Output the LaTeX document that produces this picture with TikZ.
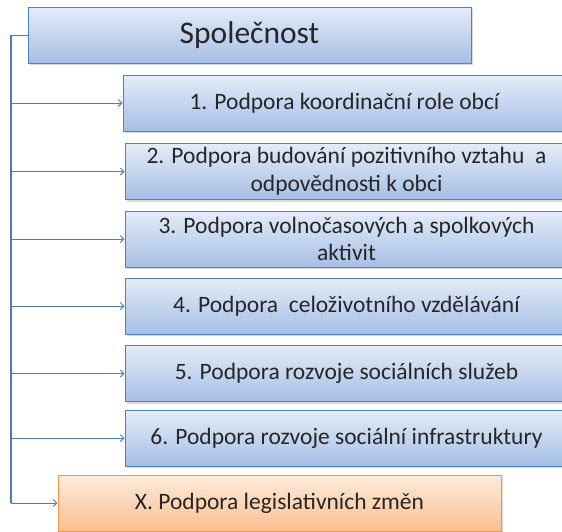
\documentclass[tikz,border=0pt]{standalone}
\usepackage{fontspec}
\setmainfont{Carlito}
\usetikzlibrary{arrows.meta,shadows}
\definecolor{boxtop}{HTML}{E4ECF7}
\definecolor{boxbot}{HTML}{A5BFE5}
\definecolor{boxline}{HTML}{4F81BD}
\definecolor{xtop}{HTML}{FEEBDC}
\definecolor{xbot}{HTML}{FABF8F}
\definecolor{xline}{HTML}{F79646}
\definecolor{linkc}{HTML}{4A7EBB}
\begin{document}
\begin{tikzpicture}[x=1pt,y=-1pt,
    box/.style={draw=boxline,line width=1pt,top color=boxtop,bottom color=boxbot,
        minimum width=443pt,minimum height=56pt,inner sep=0pt,align=center,text=black!85,
        font=\fontsize{23.5}{27.6}\selectfont,
        drop shadow={shadow xshift=1.5pt,shadow yshift=-2pt,opacity=.3}},
    xbox/.style={box,draw=xline,top color=xtop,bottom color=xbot},
    link/.style={draw=linkc,line width=1pt,-{Straight Barb[length=3.5pt,width=7pt]}}]
        \clip (0,0) rectangle (562,531);
        \node[box,font=\fontsize{31.5}{36}\selectfont] (soc) at (249.5,35) {Společnost};
        \node[box] (p1) at (344.5,103) {1. Podpora koordinační role obcí};
        \node[box] (p2) at (346.5,171.5) {2. Podpora budování pozitivního vztahu\ \ a\\odpovědnosti k obci};
        \node[box] (p3) at (346.5,239) {3. Podpora volnočasových a spolkových\\aktivit};
        \node[box] (p4) at (346.5,306) {4. Podpora\ \ celoživotního vzdělávání};
        \node[box] (p5) at (346.5,373.5) {5. Podpora rozvoje sociálních služeb};
        \node[box] (p6) at (346.5,438) {6. Podpora rozvoje sociální infrastruktury};
        \node[xbox] (px) at (279.5,503) {X. Podpora legislativních změn};
        \coordinate (trunk) at (11,35);
        \foreach \t in {p1,p2,p3,p4,p5,p6,px}
            \draw[link] (soc.west) -- (trunk) |- (\t.west);
        \draw[linkc,line width=2pt] (trunk) -- (trunk |- px.west);
    \end{tikzpicture}
\end{document}
